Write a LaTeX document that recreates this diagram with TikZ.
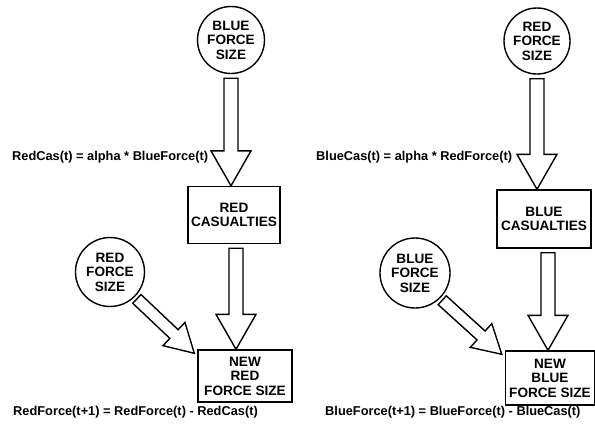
\documentclass[tikz,border=0pt]{standalone}
\usepackage{fontspec}
\setmainfont{Liberation Sans}
\newfontfamily\heavy{Liberation Sans Bold}
\usetikzlibrary{calc}
\tikzset{
  lbl/.style={font=\heavy\fontsize{13.6}{14.5}\selectfont},
  circ/.style={lbl, circle, draw, line width=1.4pt, minimum size=#1, inner sep=0pt, align=center},
  boxn/.style={lbl, rectangle, draw, line width=1.4pt, align=center, inner sep=0pt},
  eqn/.style={font=\heavy\fontsize{12.8}{14}\selectfont, inner sep=0pt},
  harrow/.style={draw, line width=1.4pt, fill=white, line join=miter}
}
\newcommand\hollowarrow[5]{% start, end, shaft half width, head half width, head length
  \coordinate (ha-s) at (#1);
  \coordinate (ha-e) at (#2);
  \coordinate (ha-b) at ($(ha-e)!#5!(ha-s)$);
  \draw[harrow] ($(ha-s)!#3!90:(ha-e)$) -- ($(ha-b)!#3!90:(ha-e)$) -- ($(ha-b)!#4!90:(ha-e)$) -- (ha-e)
    -- ($(ha-b)!#4!-90:(ha-e)$) -- ($(ha-b)!#3!-90:(ha-e)$) -- ($(ha-s)!#3!-90:(ha-e)$) -- cycle;
}
\begin{document}
\begin{tikzpicture}[x=1pt,y=-1pt]
\useasboundingbox (0,0) rectangle (595,424);
% left panel
\node[circ=67pt] (bfs) at (231,40) {BLUE\\FORCE\\SIZE};
\node[boxn, minimum width=92pt, minimum height=57pt] (rc) at (234,215) {RED\\CASUALTIES};
\node[circ=69pt] (rfs) at (110,272) {RED\\FORCE\\SIZE};
\node[boxn, minimum width=94pt, minimum height=52pt] (nrf) at (245,376) {NEW\\RED\\FORCE SIZE};
\node[eqn, anchor=west] (e1) at (12,157) {RedCas(t) = alpha * BlueForce(t)};
\node[eqn, anchor=west] (e2) at (13,412) {RedForce(t+1) = RedForce(t) - RedCas(t)};
\hollowarrow{$(bfs.south)+(0,4)$}{bfs.south |- rc.north}{7pt}{20pt}{35pt}
\hollowarrow{$(rc.south)+(2,4)$}{$(rc.south |- nrf.north)+(2,0)$}{7pt}{20pt}{35pt}
\hollowarrow{$(rfs.-45)+(2,2)$}{$(nrf.north west)+(-3,4)$}{6pt}{16pt}{28pt}
% right panel
\node[circ=66pt] (rfs2) at (537,41) {RED\\FORCE\\SIZE};
\node[boxn, minimum width=94pt, minimum height=58pt] (bc) at (544,219) {BLUE\\CASUALTIES};
\node[circ=70pt] (bfs2) at (415,273) {BLUE\\FORCE\\SIZE};
\node[boxn, minimum width=89pt, minimum height=54pt] (nbf) at (550,378) {NEW\\BLUE\\FORCE SIZE};
\node[eqn, anchor=west] (e3) at (316,157) {BlueCas(t) = alpha * RedForce(t)};
\node[eqn, anchor=west] (e4) at (325,412) {BlueForce(t+1) = BlueForce(t) - BlueCas(t)};
\hollowarrow{$(rfs2.south)+(0,4)$}{rfs2.south |- bc.north}{7pt}{20pt}{35pt}
\hollowarrow{$(bc.south)+(4,4)$}{$(bc.south |- nbf.north)+(4,0)$}{7pt}{20pt}{35pt}
\hollowarrow{$(bfs2.-45)+(2,2)$}{$(nbf.north west)+(-3,4)$}{6pt}{16pt}{28pt}
\end{tikzpicture}
\end{document}
